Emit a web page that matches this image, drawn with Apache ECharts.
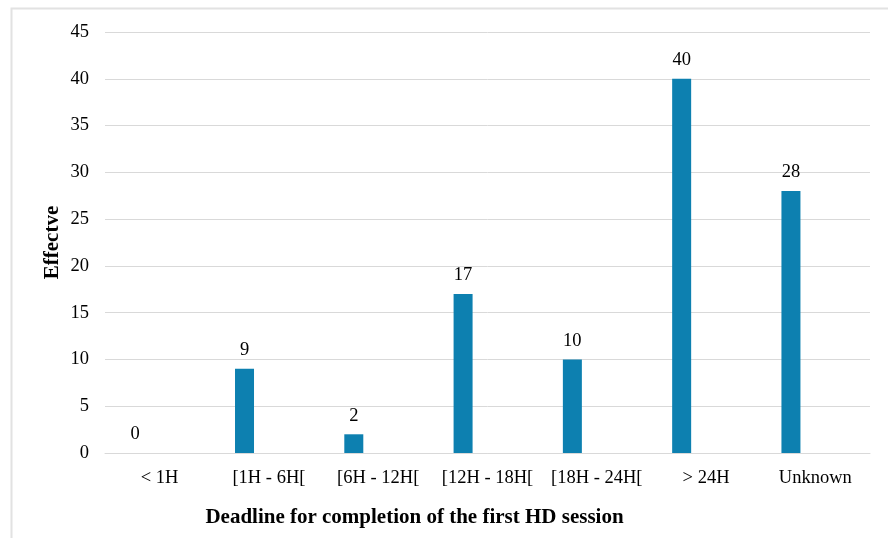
<!DOCTYPE html>
<html>
<head>
<meta charset="utf-8">
<style>
  html, body { margin: 0; padding: 0; background: #ffffff; }
  #chart { width: 888px; height: 538px; }
</style>
<script src="https://cdn.jsdelivr.net/npm/echarts@6/dist/echarts.min.js"></script>
</head>
<body>
<div id="chart"></div>
<script>
// Time to completion of the first HD session, counts per window
const categories = ['< 1H', '[1H - 6H[', '[6H - 12H[', '[12H - 18H[', '[18H - 24H[', '> 24H', 'Unknown'];
const effectifs = [0, 9, 2, 17, 10, 40, 28];
const yTicks = { min: 0, max: 45, interval: 5 };

const serif = "'Liberation Serif', 'Times New Roman', Times, serif";
const gridColor = '#d9d9d9';

const chart = echarts.init(document.getElementById('chart'), null, { renderer: 'canvas' });

chart.setOption({
  backgroundColor: '#ffffff',
  animation: false,
  textStyle: { fontFamily: serif },
  graphic: [{
    type: 'rect',
    silent: true,
    shape: { x: 11.5, y: 8.5, width: 1000, height: 700 },
    style: { fill: 'none', stroke: '#e2e2e2', lineWidth: 2 }
  }],
  grid: { left: 105, right: 18, top: 32, bottom: 85, containLabel: false },
  xAxis: {
    type: 'category',
    data: categories,
    axisLine: { show: true, lineStyle: { color: gridColor, width: 1 } },
    axisTick: { show: false },
    axisLabel: { color: '#000', fontFamily: serif, fontSize: 18.5, margin: 16, interval: 0 },
    name: 'Deadline for completion of the first HD session',
    nameLocation: 'middle',
    nameGap: 54,
    nameMoveOverlap: false,
    nameTextStyle: {
      color: '#000', fontFamily: serif, fontSize: 21, fontWeight: 'bold',
      padding: [0, 146, 0, 0]
    }
  },
  yAxis: {
    type: 'value',
    min: yTicks.min,
    max: yTicks.max,
    interval: yTicks.interval,
    axisLine: { show: false },
    axisTick: { show: false },
    splitLine: { show: true, lineStyle: { color: gridColor, width: 1 } },
    axisLabel: { color: '#000', fontFamily: serif, fontSize: 18.5, margin: 16 },
    name: 'Effectve',
    nameLocation: 'middle',
    nameGap: 42,
    nameMoveOverlap: false,
    nameTextStyle: { color: '#000', fontFamily: serif, fontSize: 21, fontWeight: 'bold' }
  },
  series: [
    {
      name: 'Effectve',
      type: 'bar',
      data: effectifs,
      barWidth: 19,
      barGap: '157%',
      itemStyle: { color: '#0d80b0' },
      label: {
        show: true,
        position: 'top',
        distance: 9,
        color: '#000',
        fontFamily: serif,
        fontSize: 18.5
      }
    },
    {
      name: 'empty',
      type: 'bar',
      data: [],
      barWidth: 19,
      barGap: '157%'
    }
  ]
});
</script>
</body>
</html>
